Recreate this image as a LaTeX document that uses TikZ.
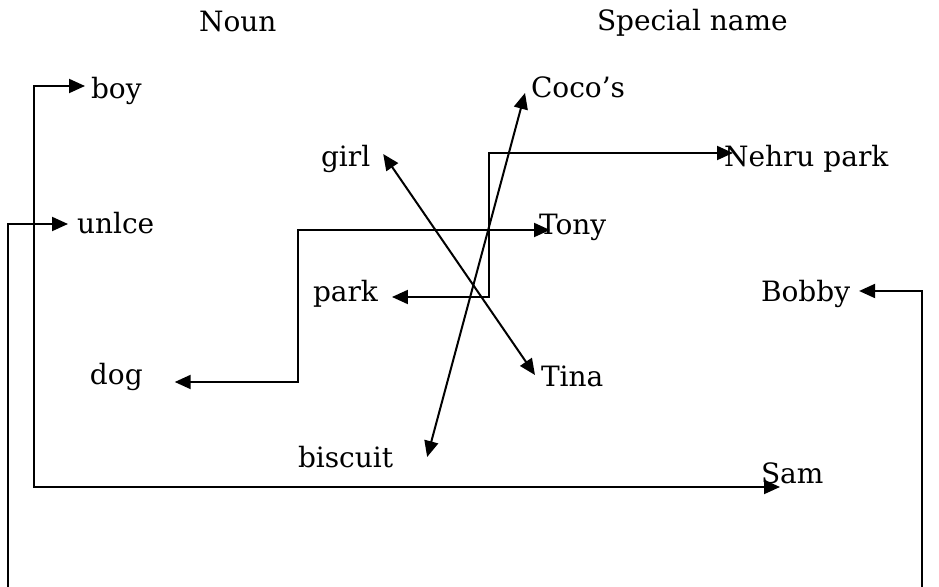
\documentclass[tikz,border=0pt]{standalone}
\usepackage{fontspec}
\setmainfont{DejaVu Serif}
\usetikzlibrary{arrows.meta,calc}

\begin{document}
\begin{tikzpicture}[x=0.5pt, y=-0.5pt, <->, >={Triangle[length=8pt,width=7pt]}, line width=1pt, inner sep=0pt]
\useasboundingbox (0,0) rectangle (939,587);
\clip (0,0) rectangle (939,587);
\tikzstyle{every node}=[font=\fontsize{14}{16}\selectfont, anchor=base west]
% headings
\node (noun) at (198,32) {Noun};
\node (special) at (596,31) {Special name};
% nouns
\node (boy) at (90,99) {boy};
\node (unlce) at (76,234) {unlce};
\node (girl) at (320,167) {girl};
\node (park) at (312,302) {park};
\node (dog) at (89,385) {dog};
\node (biscuit) at (297,468) {biscuit};
% special names
\node (coco) at (530,98) {Coco’s};
\node (nehru) at (723,167) {Nehru park};
\node (tony) at (538,235) {Tony};
\node (bobby) at (760,302) {Bobby};
\node (tina) at (540,387) {Tina};
\node (sam) at (760,484) {Sam};

\draw ($(boy.base west)+(-5,-13)$) -- ++(-51,0) |- ($(sam.base west)+(20,3)$);
\draw ($(unlce.base west)+(-8,-10)$) -- ++(-60.5,0) -- ++(0,380) -- ++(914.5,0) |- ($(bobby.base east)+(8,-11)$);
\draw ($(girl.base east)+(12,-13)$) -- ($(tina.base west)+(-5,-12)$);
\draw ($(coco.base west)+(-5,-5)$) -- ($(biscuit.base east)+(33,-11)$);
\draw ($(tony.base west)+(12,-5)$) -- ++(-252,0) |- ($(dog.base east)+(31,-3)$);
\draw ($(park.base east)+(13,-5)$) -- ++(97,0) |- ($(nehru.base west)+(10,-14)$);
\end{tikzpicture}
\end{document}
